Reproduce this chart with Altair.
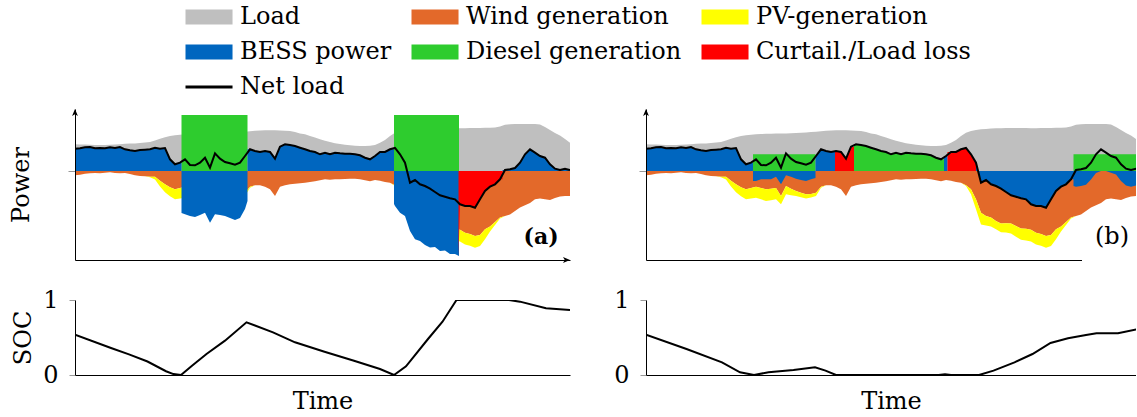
import altair as alt
import pandas as pd

FONT = "DejaVu Serif"

# ---------------- shared time series (one step = one time unit) ----------------
time = list(range(100))

load = [26.7, 26.6, 26.4, 26.2, 26.0, 26.0, 26.1, 26.3, 26.5, 26.8,
        27.2, 27.4, 27.6, 28.0, 28.5, 29.0, 30.5, 32.3, 33.8, 35.0,
        35.7, 36.2, 36.7, 37.0, 37.2, 37.3, 37.4, 37.5, 37.6, 37.8,
        38.1, 38.3, 38.6, 39.0, 39.3, 39.8, 40.2, 40.5, 40.7, 40.8,
        40.7, 40.5, 40.2, 40.0, 39.0, 37.5, 36.7, 35.0, 33.5, 31.7,
        30.2, 29.0, 27.7, 27.0, 26.3, 25.7, 25.3, 25.1, 25.0, 25.2,
        26.0, 28.3, 31.0, 35.0, 38.3, 40.0, 41.0, 41.7, 42.1, 42.4,
        42.7, 42.8, 42.9, 43.0, 43.0, 43.0, 42.9, 42.8, 42.8, 42.9,
        43.0, 43.1, 43.2, 43.3, 43.5, 44.5, 46.3, 46.8, 47.0, 47.0,
        47.0, 47.0, 47.0, 46.5, 44.0, 41.0, 38.0, 35.5, 32.0, 28.3]

wind = [4.3, 3.7, 2.7, 2.3, 2.0, 2.3, 1.7, 1.3, 2.0, 2.3,
        2.0, 3.0, 4.3, 5.0, 5.3, 5.7, 5.7, 9.7, 13.3, 16.3,
        18.3, 17.0, 15.7, 17.0, 18.3, 17.7, 17.0, 25.0, 15.0, 17.7,
        20.0, 21.7, 23.3, 23.0, 21.7, 15.7, 14.3, 14.3, 15.7, 18.3,
        25.0, 15.7, 14.3, 13.3, 12.7, 12.3, 11.7, 11.0, 10.3, 9.3,
        8.3, 8.7, 8.3, 8.3, 8.0, 7.7, 7.7, 8.3, 9.3, 10.3,
        9.0, 9.7, 11.0, 11.7, 14.3, 18.3, 28.3, 41.7, 45.0, 46.5,
        50.0, 52.5, 52.3, 52.5, 55.0, 57.5, 57.7, 58.8, 61.7, 63.0,
        65.0, 64.0, 58.3, 55.5, 51.0, 46.5, 45.0, 43.5, 40.0, 36.5,
        34.3, 32.0, 28.3, 27.5, 28.3, 29.0, 27.0, 25.5, 25.0, 25.0]

pv = [0.0] * 15 + [0.5, 2.7, 5.7, 8.0, 9.0, 10.0, 10.5, 11.0, 11.3, 11.7,
                   11.5, 11.3, 8.3, 8.3, 6.5, 5.0, 4.5, 4.3, 3.5, 3.3, 1.0] \
     + [0.0] * 28 + [0.7, 5.0, 10.0, 11.7, 9.5, 9.0, 8.3, 8.7, 9.3, 10.0, 10.7,
                     11.3, 11.7, 11.7, 11.7, 11.7, 11.7, 11.0, 10.0, 5.0, 3.0, 1.0] \
     + [0.0] * 14

net = [22.3, 22.7, 23.7, 24.0, 22.7, 23.0, 22.7, 23.7, 23.0, 24.0,
       21.7, 20.7, 20.0, 21.0, 21.3, 21.7, 23.3, 22.3, 23.0, 11.7,
       6.7, 8.3, 11.7, 6.0, 5.7, 8.3, 13.3, 3.3, 17.7, 12.3,
       9.0, 7.7, 6.3, 8.3, 15.0, 21.7, 20.0, 19.0, 20.0, 19.0,
       12.3, 24.3, 26.7, 26.0, 25.0, 23.3, 21.7, 20.0, 19.0, 16.7,
       18.3, 16.7, 18.3, 17.7, 17.3, 17.3, 16.7, 15.7, 13.3, 11.7,
       15.0, 19.0, 19.0, 21.7, 23.0, 16.7, 8.3, -11.7, -9.0, -13.3,
       -15.0, -17.7, -21.0, -24.3, -25.7, -27.3, -28.3, -33.3, -35.0, -35.0,
       -36.7, -28.3, -20.0, -15.7, -13.3, -8.3, 1.0, 1.7, 3.0, 8.3,
       16.7, 21.7, 18.3, 15.0, 13.3, 6.7, 2.3, 1.0, 2.3, 1.0]

names = ["Load", "Wind generation", "PV-generation",
         "BESS power", "Diesel generation", "Curtail./Load loss", "Net load"]
colors = ["#bfbfbf", "#e3692a", "#ffff00", "#0066bf", "#2ecc2e", "#ff0000", "#000000"]
COL = dict(zip(names, colors))

# ---------------- case (a) ----------------
a_diesel_on = [(21.3, 34.5), (63.8, 76.8)]
a_diesel_level = 56.0
a_bess_follow = [(0, 21.3), (34.5, 63.8), (85.5, 99)]
a_charge1_t = [21.3, 22, 23, 24, 25, 26, 27, 28, 29, 30, 31, 32, 33, 34, 34.5]
a_charge1_v = [-42, -43.3, -45, -46, -44, -41.7, -51.7, -43.3, -44, -45, -47, -49, -47, -38, -30]
a_charge2_t = [63.8, 64, 65, 66, 67, 68, 69, 70, 71, 72, 73, 74, 75, 76, 76.8]
a_charge2_v = [-33, -35, -41.7, -45, -60, -68.3, -70, -74, -76.5, -76, -80, -79.5, -83, -83, -85]
a_curt_edge = (76.7, -86.0)
a_curt_follow = (77, 85.5)

# ---------------- case (b) ----------------
b_diesel_flat = [(21.4, 33.9), (85.5, 99)]
b_diesel_level = 16.7
b_diesel_follow = [(41.6, 59.6)]
b_bess_follow = [(0, 21.4), (33.9, 37.8), (59.6, 60.3), (66, 85.5)]
b_charge1_t = [21.4, 22, 23, 24, 25, 26, 27, 28, 29, 30, 31, 32, 33, 33.9]
b_charge1_v = [-10, -10, -8.3, -8.3, -8.3, -5.7, -13.3, -4.3, -5.7, -7.7, -9, -10, -8.3, -7]
b_charge2_t = [85.5, 86, 87, 88, 89, 90, 91, 92, 93, 94, 95, 96, 97, 98, 99]
b_charge2_v = [-15, -15.7, -15, -13.7, -8.4, -2, 0, 0, -1.7, -3.4, -10, -14.4, -15.7, -14.4, -15.7]
b_curt_follow = [(37.8, 41.6), (60.3, 66)]

# ---------------- state of charge ----------------
soc_a_t = [0, 7.2, 10.8, 14.5, 18.2, 19.7, 21.2, 23.4, 26.3, 30, 34.3, 39.6, 44, 49.9,
           55.8, 61, 63.8, 66.2, 70.6, 73.5, 76.3, 86.8, 89, 94.2, 99]
soc_a = [0.538, 0.36, 0.275, 0.18, 0.05, 0.012, 0.0, 0.124, 0.28, 0.458, 0.702, 0.569, 0.436,
         0.311, 0.191, 0.08, 0.0, 0.116, 0.48, 0.71, 1.0, 1.0, 0.978, 0.889, 0.867]
soc_b_t = [0, 8.1, 15.2, 18.8, 21.6, 24.5, 29.5, 33.8, 35.9, 38, 58.5, 59.8, 61, 66.6,
           69.5, 73.7, 77.3, 80.9, 84.4, 88, 90.1, 94.4, 98.5, 99]
soc_b = [0.538, 0.347, 0.169, 0.036, 0.0, 0.036, 0.067, 0.102, 0.058, 0.0, 0.0, 0.01, 0.0,
         0.0, 0.058, 0.169, 0.28, 0.427, 0.489, 0.533, 0.556, 0.556, 0.613, 0.62]

# ---------------- helpers to build tables ----------------
def follow(s, e):
    ts = [t for t in time if s <= t <= e]
    return [(s, net[ts[0]])] + [(t, net[t]) for t in ts] + [(e, net[ts[-1]])]


def area_df(pieces):
    rows = []
    for pts in pieces:
        rows.append((pts[0][0], 0.0))
        rows.extend(pts)
        rows.append((pts[-1][0], 0.0))
    return pd.DataFrame({"t": [float(r[0]) for r in rows], "hi": [float(r[1]) for r in rows],
                         "lo": [0.0] * len(rows)})


load_df = pd.DataFrame({"t": [float(t) for t in time], "hi": load, "lo": [0.0] * 100})
wind_df = pd.DataFrame({"t": [float(t) for t in time], "hi": [-w for w in wind], "lo": [0.0] * 100})
pv_df = pd.DataFrame({"t": [float(t) for t in time], "lo": [-w for w in wind],
                      "hi": [-(w + p) for w, p in zip(wind, pv)]})
net_df = pd.DataFrame({"t": [float(t) for t in time], "hi": net})

a_bess = area_df([follow(*a_bess_follow[0]), list(zip(a_charge1_t, a_charge1_v)),
                  follow(*a_bess_follow[1]), list(zip(a_charge2_t, a_charge2_v)),
                  follow(*a_bess_follow[2])])
a_diesel = area_df([[(s, a_diesel_level), (e, a_diesel_level)] for s, e in a_diesel_on])
a_curt = area_df([[a_curt_edge] + follow(*a_curt_follow)])

b_bess = area_df([follow(*b_bess_follow[0]), list(zip(b_charge1_t, b_charge1_v)),
                  follow(*b_bess_follow[1]), follow(*b_bess_follow[2]),
                  follow(*b_bess_follow[3]), list(zip(b_charge2_t, b_charge2_v))])
b_diesel = area_df([[(b_diesel_flat[0][0], b_diesel_level), (b_diesel_flat[0][1], b_diesel_level)],
                    follow(*b_diesel_follow[0]),
                    [(b_diesel_flat[1][0], b_diesel_level), (b_diesel_flat[1][1], b_diesel_level)]])
b_curt = area_df([follow(s, e) for s, e in b_curt_follow])

Y_MIN, Y_MAX = -89, 62
ARROW_UP = "M0,0L0.5,1.2L0,0.9L-0.5,1.2Z"
ARROW_RIGHT = "M0,0L-1.2,-0.5L-0.9,0L-1.2,0.5Z"
RECT = "M-1,-1L5.27,-1L5.27,1L-1,1Z"
THIN = "M-1,-0.2L5.27,-0.2L5.27,0.2L-1,0.2Z"
shapes = [RECT] * 6 + [THIN]

LEG = alt.Legend(title=None, orient="none", legendX=106, legendY=-104, columns=3,
                 direction="horizontal", columnPadding=15, rowPadding=11,
                 symbolSize=225, labelOffset=35,
                 labelFont=FONT, labelFontSize=24, labelColor="black",
                 symbolStrokeWidth=0, padding=0, labelLimit=500, symbolOpacity=1)


def power_panel(bess, diesel, curt, xmax, width, title, label, bold, x_z, with_legend):
    xs = alt.Scale(domain=[0, xmax], nice=False, zero=False)
    ys = alt.Scale(domain=[Y_MIN, Y_MAX], nice=False)
    xax = alt.Axis(title=None, labels=False, ticks=False, grid=False,
                   domainColor="black", domainWidth=1, zindex=x_z)
    yax = alt.Axis(title=title, values=[0], labels=False, ticks=True, tickSize=7,
                   tickColor="#999999", grid=False, domainColor="black", domainWidth=1,
                   titleFont=FONT, titleFontSize=24, titleFontWeight="normal",
                   titleColor="black", titlePadding=34, zindex=1)

    def X(f):
        return alt.X(f, type="quantitative", scale=xs, axis=xax)

    def Y(f):
        return alt.Y(f, type="quantitative", scale=ys, axis=yax)

    def area(df, name):
        return alt.Chart(df).mark_area(color=COL[name], opacity=1, clip=True).encode(
            x=X("t"), y=Y("hi"), y2=alt.Y2("lo"))

    layers = [area(load_df, "Load"), area(wind_df, "Wind generation"),
              area(pv_df, "PV-generation"), area(diesel, "Diesel generation"),
              area(bess, "BESS power"), area(curt, "Curtail./Load loss")]
    layers.append(alt.Chart(net_df).mark_line(color="black", strokeWidth=2, clip=True).encode(
        x=X("t"), y=Y("hi")))
    layers.append(alt.Chart(pd.DataFrame({"t": [0.0], "v": [float(Y_MAX)]})).mark_point(
        shape=ARROW_UP, size=136, filled=True, color="black", opacity=1).encode(
        x=X("t"), y=Y("v")))
    if xmax >= 99:
        layers.append(alt.Chart(pd.DataFrame({"t": [float(xmax)], "v": [float(Y_MIN)]})).mark_point(
            shape=ARROW_RIGHT, size=136, filled=True, color="black", opacity=1).encode(
            x=X("t"), y=Y("v")))
    else:
        layers.append(alt.Chart(pd.DataFrame({"k": [0]})).mark_rect(color="white").encode(
            x=alt.value(436), x2=alt.value(width), y=alt.value(118), y2=alt.value(154)))
    layers.append(alt.Chart(pd.DataFrame({"txt": [label]})).mark_text(
        font=FONT, fontSize=22 if bold else 24, fontWeight="bold" if bold else "normal",
        align="center", baseline="middle", color="black").encode(
        x=alt.value(466), y=alt.value(128), text="txt:N"))
    if with_legend:
        layers.append(alt.Chart(pd.DataFrame({"series": names})).mark_point(
            filled=True, opacity=1, clip=True).encode(
            x=alt.value(-5000), y=alt.value(-5000),
            color=alt.Color("series:N", scale=alt.Scale(domain=names, range=colors), legend=LEG),
            shape=alt.Shape("series:N", scale=alt.Scale(domain=names, range=shapes), legend=LEG)))
    return alt.layer(*layers).properties(width=width, height=151)


def soc_panel(ts, vs, xmax, width, title):
    df = pd.DataFrame({"t": ts, "soc": vs})
    x = alt.X("t:Q", scale=alt.Scale(domain=[0, xmax], nice=False, zero=False),
              axis=alt.Axis(title="Time", labels=False, ticks=False, grid=False,
                            domainColor="black", titleFont=FONT, titleFontSize=24,
                            titleFontWeight="normal", titleColor="black", titlePadding=14))
    y = alt.Y("soc:Q", scale=alt.Scale(domain=[0, 1], nice=False),
              axis=alt.Axis(title=title, values=[0, 1], format="d", tickSize=6,
                            tickColor="#999999", labelFont=FONT, labelFontSize=24,
                            labelColor="black", labelPadding=11, grid=False,
                            domainColor="black", titleFont=FONT, titleFontSize=24,
                            titleFontWeight="normal", titleColor="black", titlePadding=7))
    return alt.Chart(df).mark_line(color="black", strokeWidth=2, clip=True).encode(
        x=x, y=y).properties(width=width, height=75)


pa = power_panel(a_bess, a_diesel, a_curt, 99, 495, "Power", "(a)", True, 1, True)
pb = power_panel(b_bess, b_diesel, b_curt, 98, 490, None, "(b)", False, 0, False)
sa = soc_panel(soc_a_t, soc_a, 99, 495, "SOC")
sb = soc_panel(soc_b_t, soc_b, 98, 490, None)

chart = alt.concat(pa, pb, sa, sb, columns=2, spacing={"row": 40, "column": 76},
                   bounds="flush", align="each").properties(
    padding={"left": 9, "top": 5, "right": 0, "bottom": 0},
    autosize=alt.AutoSizeParams(type="pad")
).configure(font=FONT).configure_view(stroke=None)

chart.save("out.html", embed_options={"renderer": "svg", "actions": False})
